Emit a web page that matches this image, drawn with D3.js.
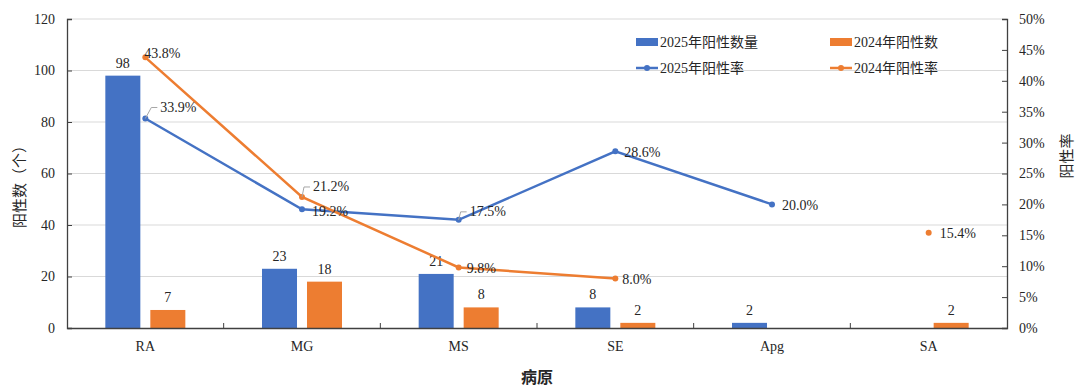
<!DOCTYPE html>
<html>
<head>
<meta charset="utf-8">
<script src="https://cdn.jsdelivr.net/npm/d3@7"></script>
<style>
  body { margin: 0; background: #fff; }
  svg { display: block; }
  text { font-family: "Liberation Serif", "Times New Roman", "Noto Sans CJK SC", serif; fill: #262626; }
</style>
</head>
<body>
<div id="chart"></div>
<script>
// данные
const pathogens = ['RA', 'MG', 'MS', 'SE', 'Apg', 'SA'];
const count2025 = [98, 23, 21, 8, 2, null];
const count2024 = [7, 18, 8, 2, null, 2];
const rate2025 = [33.9, 19.2, 17.5, 28.6, 20.0, null];
const rate2024 = [43.8, 21.2, 9.8, 8.0, null, 15.4];
const leftTicks = [0, 20, 40, 60, 80, 100, 120];
const rightTicks = [0, 5, 10, 15, 20, 25, 30, 35, 40, 45, 50];

const W = 1080, H = 386;
const m = { top: 19, right: 73, bottom: 58, left: 67 };
const blue = '#4472C4', orange = '#ED7D31';

const svg = d3.select('#chart').append('svg').attr('width', W).attr('height', H);

const x = d3.scaleBand().domain(pathogens).range([m.left, W - m.right]);
const xs = d3.scaleBand().domain(['2025', '2024'])
  .range([x.bandwidth() / 2 - 40, x.bandwidth() / 2 + 40]).paddingInner(0.222);
const y = d3.scaleLinear().domain([0, 120]).range([H - m.bottom, m.top]);
const yr = d3.scaleLinear().domain([0, 50]).range([H - m.bottom, m.top]);
const cx = p => x(p) + x.bandwidth() / 2;

// сетка
svg.append('g').selectAll('line').data(leftTicks.filter(d => d > 0)).join('line')
  .attr('x1', m.left).attr('x2', W - m.right)
  .attr('y1', d => y(d)).attr('y2', d => y(d))
  .attr('stroke', '#d9d9d9').attr('stroke-width', 1);

// столбцы
const bars = [
  { key: '2025', vals: count2025, color: blue },
  { key: '2024', vals: count2024, color: orange }
];
bars.forEach(s => {
  const pts = pathogens.map((p, i) => ({ p, v: s.vals[i] })).filter(d => d.v != null);
  svg.append('g').selectAll('rect').data(pts).join('rect')
    .attr('x', d => x(d.p) + xs(s.key))
    .attr('width', xs.bandwidth())
    .attr('y', d => y(d.v))
    .attr('height', d => y(0) - y(d.v))
    .attr('fill', s.color);
  svg.append('g').selectAll('text').data(pts).join('text')
    .attr('x', d => x(d.p) + xs(s.key) + xs.bandwidth() / 2)
    .attr('y', d => y(d.v) - 8)
    .attr('text-anchor', 'middle')
    .attr('font-size', 14)
    .text(d => d.v);
});

// оси
const axL = svg.append('g').attr('transform', `translate(${m.left},0)`)
  .call(d3.axisLeft(y).tickValues(leftTicks).tickSize(-5).tickPadding(12));
const axR = svg.append('g').attr('transform', `translate(${W - m.right},0)`)
  .call(d3.axisRight(yr).tickValues(rightTicks).tickSize(-5).tickPadding(12).tickFormat(d => d + '%'));
const axB = svg.append('g').attr('transform', `translate(0,${H - m.bottom})`)
  .call(d3.axisBottom(x).tickSize(0).tickPadding(13));
[axL, axR, axB].forEach(a => {
  a.select('.domain').attr('stroke', '#404040').attr('stroke-width', 1.3);
  a.selectAll('.tick line').attr('stroke', '#404040');
  a.selectAll('.tick text').attr('font-size', 14).attr('font-family', '"Liberation Serif", serif').attr('fill', '#262626');
});
// разделители категорий
svg.append('g').selectAll('line').data(pathogens.slice(1)).join('line')
  .attr('x1', d => x(d)).attr('x2', d => x(d))
  .attr('y1', y(0)).attr('y2', y(0) - 5)
  .attr('stroke', '#404040');

// линии
const lines = [
  { vals: rate2025, color: blue },
  { vals: rate2024, color: orange }
];
const lineGen = d3.line().defined(d => d.v != null).x(d => cx(d.p)).y(d => yr(d.v));
lines.forEach(s => {
  const pts = pathogens.map((p, i) => ({ p, v: s.vals[i] }));
  svg.append('path').datum(pts).attr('d', lineGen)
    .attr('fill', 'none').attr('stroke', s.color).attr('stroke-width', 2.5);
  svg.append('g').selectAll('circle').data(pts.filter(d => d.v != null)).join('circle')
    .attr('cx', d => cx(d.p)).attr('cy', d => yr(d.v)).attr('r', 3)
    .attr('fill', s.color);
});

// подписи процентов
const rateLabels = [
  { s: 0, i: 0, dx: 15, dy: -11, leader: true },
  { s: 0, i: 1, dx: 10, dy: 2 },
  { s: 0, i: 2, dx: 11, dy: -8, leader: true },
  { s: 0, i: 3, dx: 9, dy: 1 },
  { s: 0, i: 4, dx: 10, dy: 1 },
  { s: 1, i: 0, dx: -1, dy: -4 },
  { s: 1, i: 1, dx: 11, dy: -10, leader: true },
  { s: 1, i: 2, dx: 8, dy: 1 },
  { s: 1, i: 3, dx: 7, dy: 1 },
  { s: 1, i: 5, dx: 11, dy: 1 }
];
const rates = [rate2025, rate2024];
rateLabels.forEach(l => {
  const v = rates[l.s][l.i];
  const px = cx(pathogens[l.i]), py = yr(v);
  if (l.leader) {
    svg.append('polyline')
      .attr('points', [[px, py], [px + l.dx - 9, py + l.dy], [px + l.dx - 3, py + l.dy]].map(p => p.join(',')).join(' '))
      .attr('fill', 'none').attr('stroke', '#a6a6a6').attr('stroke-width', 1);
  }
  svg.append('text')
    .attr('x', px + l.dx).attr('y', py + l.dy)
    .attr('dominant-baseline', 'central')
    .attr('font-size', 14)
    .text(v.toFixed(1) + '%');
});

// заголовки осей
svg.append('text').attr('transform', `translate(20,183) rotate(-90)`)
  .attr('text-anchor', 'middle').attr('dominant-baseline', 'central')
  .attr('font-size', 15).attr('font-family', '"Noto Sans CJK SC", sans-serif').attr('fill', '#404040')
  .text('阳性数（个）');
svg.append('text').attr('transform', `translate(1067,156) rotate(-90)`)
  .attr('text-anchor', 'middle').attr('dominant-baseline', 'central')
  .attr('font-size', 15).attr('font-family', '"Noto Sans CJK SC", sans-serif').attr('fill', '#404040')
  .text('阳性率');
svg.append('text').attr('x', (m.left + W - m.right) / 2).attr('y', 377)
  .attr('text-anchor', 'middle').attr('dominant-baseline', 'central')
  .attr('font-size', 16).attr('font-weight', 'bold').attr('font-family', '"Noto Sans CJK SC", sans-serif')
  .text('病原');

// легенда
const legend = [
  { name: '2025年阳性数量', color: blue, type: 'bar', lx: 636, ly: 42 },
  { name: '2024年阳性数', color: orange, type: 'bar', lx: 830, ly: 42 },
  { name: '2025年阳性率', color: blue, type: 'line', lx: 636, ly: 68 },
  { name: '2024年阳性率', color: orange, type: 'line', lx: 830, ly: 68 }
];
const lg = svg.append('g').selectAll('g').data(legend).join('g')
  .attr('transform', d => `translate(${d.lx},${d.ly})`);
lg.filter(d => d.type === 'bar').append('rect')
  .attr('x', 0).attr('y', -4).attr('width', 22).attr('height', 8).attr('fill', d => d.color);
lg.filter(d => d.type === 'line').append('line')
  .attr('x1', 0).attr('x2', 22).attr('y1', 0).attr('y2', 0)
  .attr('stroke', d => d.color).attr('stroke-width', 2.5);
lg.filter(d => d.type === 'line').append('circle')
  .attr('cx', 11).attr('cy', 0).attr('r', 3).attr('fill', d => d.color);
lg.append('text').attr('x', 24).attr('y', 0).attr('dominant-baseline', 'central')
  .attr('font-size', 14)
  .attr('font-family', '"Liberation Serif", "Noto Sans CJK SC", serif')
  .text(d => d.name);
</script>
</body>
</html>
